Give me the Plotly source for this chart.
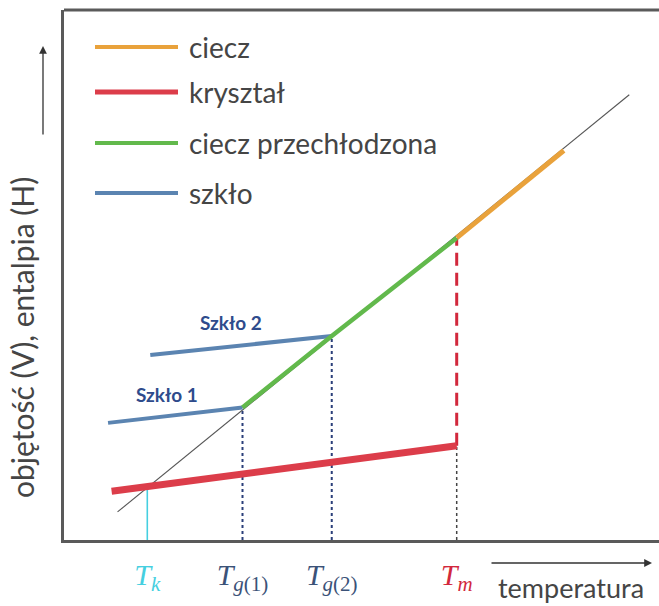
import plotly.graph_objects as go

# Characteristic temperatures (arbitrary units along the temperature axis)
T_k = 1.4
T_g1 = 3.0
T_g2 = 4.5
T_m = 6.6
temp_marks = [T_k, T_g1, T_g2, T_m]

# Volume / enthalpy curves (arbitrary units)
ref_x = [0.9, 9.5]            # thin guide line through the liquid branch
ref_y = [0.53, 8.4]
liquid_x = [6.6, 8.4]         # ciecz
liquid_y = [5.7, 7.35]
crystal_x = [0.8, 6.6]        # kryształ
crystal_y = [0.92, 1.78]
supercooled_x = [3.0, 4.5, 6.6]   # ciecz przechłodzona
supercooled_y = [2.5, 3.85, 5.7]
glass1_x = [0.74, 3.0]        # szkło 1
glass1_y = [2.21, 2.5]
glass2_x = [1.45, 4.5]        # szkło 2
glass2_y = [3.49, 3.85]

legend_names = ["ciecz", "kryształ", "ciecz przechłodzona", "szkło"]

C_LIQ = "#E9A23B"
C_CRY = "#DC3D4A"
C_SUP = "#62B94C"
C_GLS = "#5B84B1"
C_TK = "#45CFE0"
C_TG = "#3B5278"
C_TM = "#D2283C"
C_TXT = "#454545"
FONT = "Lato"

W, H = 659, 606
ML, MR, MT, MB = 64, 0, 10, 66
PW, PH = W - ML - MR, H - MT - MB


def px(xp):
    return (xp - ML) / PW


def py(yp):
    return (H - MB - yp) / PH


fig = go.Figure()


def seg(x, y, color, width, dash="solid"):
    fig.add_trace(go.Scatter(x=x, y=y, mode="lines", hoverinfo="skip",
                             line=dict(color=color, width=width, dash=dash),
                             showlegend=False))


# height of the crystal line at T_k
crystal_at_tk = crystal_y[0] + (crystal_y[1] - crystal_y[0]) * (T_k - crystal_x[0]) / (crystal_x[1] - crystal_x[0])

# vertical guides down to the temperature axis
seg([T_k, T_k], [0, crystal_at_tk], C_TK, 1.6)
seg([T_g1, T_g1], [0, glass1_y[-1]], "#2B3F7A", 2, "dot")
seg([T_g2, T_g2], [0, glass2_y[-1]], "#2B3F7A", 2, "dot")
seg([T_m, T_m], [0, crystal_y[-1]], "#444444", 1.5, "dot")
seg([T_m, T_m], [crystal_y[-1], liquid_y[0]], C_TM, 3, "13px,7px")

# curves
seg(ref_x, ref_y, "#555555", 1.1)
seg(crystal_x, crystal_y, C_CRY, 7)
seg(glass1_x, glass1_y, C_GLS, 4)
seg(glass2_x, glass2_y, C_GLS, 4)
seg(supercooled_x, supercooled_y, C_SUP, 4.5)
seg(liquid_x, liquid_y, C_LIQ, 5)

# frame
shapes = [dict(type="line", xref="paper", yref="paper", x0=0, x1=1, y0=1, y1=1,
               line=dict(color="#5a5a5a", width=3))]

# legend drawn as line samples + labels
legend_colors = [C_LIQ, C_CRY, C_SUP, C_GLS]
legend_widths = [4, 5, 4, 4]
legend_rows = [47, 92, 143, 193]
annotations = []
for name, col, lw, yr in zip(legend_names, legend_colors, legend_widths, legend_rows):
    shapes.append(dict(type="line", xref="paper", yref="paper",
                       x0=px(95), x1=px(178), y0=py(yr), y1=py(yr),
                       line=dict(color=col, width=lw)))
    annotations.append(dict(xref="paper", yref="paper", x=px(187), y=py(yr),
                            xanchor="left", yanchor="middle", showarrow=False,
                            text=name, font=dict(family=FONT, size=28, color=C_TXT)))

# glass labels
annotations.append(dict(x=1.73, y=2.74, text="<b>Szkło 1</b>", showarrow=False,
                        font=dict(family=FONT, size=19, color="#2E4B8C")))
annotations.append(dict(x=2.81, y=4.11, text="<b>Szkło 2</b>", showarrow=False,
                        font=dict(family=FONT, size=19, color="#2E4B8C")))

# axis titles and arrows
annotations.append(dict(xref="paper", yref="paper", x=px(22), y=py(338),
                        text="objętość (V), entalpia (H)", textangle=-90,
                        showarrow=False, xanchor="center", yanchor="middle",
                        font=dict(family=FONT, size=30, color=C_TXT)))
annotations.append(dict(xref="paper", yref="paper", x=px(43), y=py(46), text="",
                        showarrow=True, ax=0, ay=90, arrowhead=2, arrowsize=1.2,
                        arrowwidth=1.3, arrowcolor="#333333"))
annotations.append(dict(xref="paper", yref="paper", x=px(652), y=py(563), text="",
                        showarrow=True, ax=-162, ay=0, arrowhead=2, arrowsize=1.2,
                        arrowwidth=1.3, arrowcolor="#333333"))
annotations.append(dict(xref="paper", yref="paper", x=px(571), y=py(587),
                        text="temperatura", showarrow=False,
                        xanchor="center", yanchor="middle",
                        font=dict(family=FONT, size=27, color=C_TXT)))

tick_text = [
    f'<span style="color:{C_TK}"><i>T</i><sub><i>k</i></sub></span>',
    f'<span style="color:{C_TG}"><i>T</i><sub><i>g</i>(1)</sub></span>',
    f'<span style="color:{C_TG}"><i>T</i><sub><i>g</i>(2)</sub></span>',
    f'<span style="color:{C_TM}"><i>T</i><sub><i>m</i></sub></span>',
]

fig.update_layout(
    width=W, height=H,
    margin=dict(l=ML, r=MR, t=MT, b=MB),
    paper_bgcolor="white", plot_bgcolor="white",
    showlegend=False,
    shapes=shapes, annotations=annotations,
    xaxis=dict(range=[0, 10], showgrid=False, zeroline=False,
               showline=True, linecolor="#5a5a5a", linewidth=3,
               tickvals=temp_marks, ticktext=tick_text, ticks="",
               ticklabelstandoff=6,
               tickfont=dict(family="Liberation Serif", size=30)),
    yaxis=dict(range=[0, 10], showgrid=False, zeroline=False,
               showline=True, linecolor="#5a5a5a", linewidth=3,
               showticklabels=False, ticks=""),
)

fig.write_html("out.html")
